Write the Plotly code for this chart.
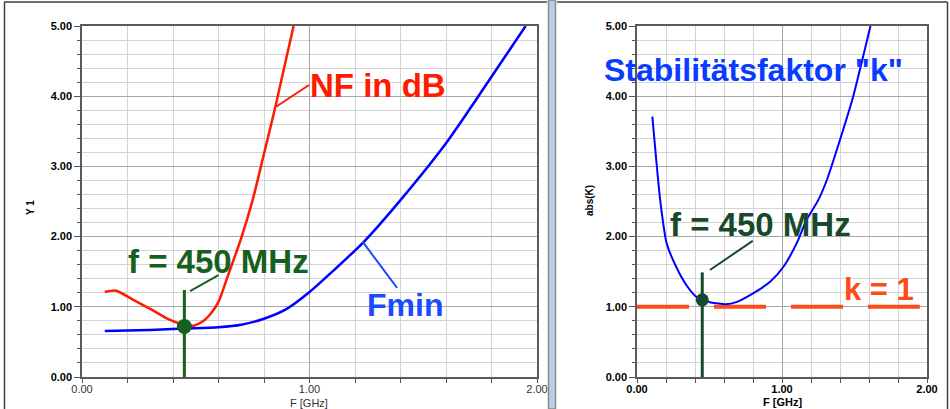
import plotly.graph_objects as go

# ---------------- data ----------------
nf_freq = [0.10, 0.15, 0.22, 0.30, 0.37, 0.42, 0.45, 0.49, 0.53, 0.57, 0.60, 0.64, 0.70, 0.75, 0.80, 0.85, 0.93]
nf_db = [1.21, 1.23, 1.11, 0.97, 0.84, 0.77, 0.73, 0.73, 0.79, 0.92, 1.07, 1.43, 1.98, 2.52, 3.18, 3.85, 5.00]

fmin_freq = [0.10, 0.30, 0.45, 0.60, 0.70, 0.80, 0.90, 1.00, 1.10, 1.24, 1.40, 1.60, 1.78, 1.95]
fmin_val = [0.655, 0.67, 0.69, 0.71, 0.745, 0.83, 0.97, 1.21, 1.50, 1.93, 2.52, 3.33, 4.18, 5.00]

k_freq = [0.106, 0.16, 0.205, 0.27, 0.34, 0.41, 0.457, 0.51, 0.55, 0.61, 0.69, 0.80, 0.92, 1.01, 1.10, 1.17, 1.25, 1.31, 1.40, 1.49, 1.61]
k_val = [3.71, 2.52, 1.90, 1.57, 1.31, 1.14, 1.10, 1.06, 1.05, 1.035, 1.07, 1.19, 1.36, 1.57, 1.90, 2.24, 2.52, 2.81, 3.38, 3.99, 5.00]

k1_freq = [0.0, 1.95]
k1_val = [1.0, 1.0]

mark_freq = 0.45
mark_nf = 0.72
mark_k = 1.10
mark_top_left = 1.24
mark_top_right = 1.49

x_ticks = [0, 1, 2]
y_ticks = [0, 1, 2, 3, 4, 5]

# ---------------- styling ----------------
FONT = "Liberation Sans, Arial, sans-serif"
RED = "#ff1a00"
BLUE = "#0000ff"
TXT_BLUE = "#0a3cff"
GREEN = "#16601e"
DGREEN = "#174a2c"
ORANGE = "#ff4a1a"

W, H = 950, 409
def px_x(p):
    return p / W
def px_y(p):
    return 1 - p / H

fig = go.Figure()

fig.add_trace(go.Scatter(x=nf_freq, y=nf_db, mode="lines", line=dict(color=RED, width=2.5, shape="spline", smoothing=0.7),
                         xaxis="x", yaxis="y", showlegend=False))
fig.add_trace(go.Scatter(x=fmin_freq, y=fmin_val, mode="lines", line=dict(color=BLUE, width=2.5, shape="spline", smoothing=0.7),
                         xaxis="x", yaxis="y", showlegend=False))
fig.add_trace(go.Scatter(x=[mark_freq, mark_freq], y=[0, mark_top_left], mode="lines", line=dict(color=GREEN, width=3),
                         xaxis="x", yaxis="y", showlegend=False))
fig.add_trace(go.Scatter(x=[mark_freq], y=[mark_nf], mode="markers", marker=dict(color=GREEN, size=15),
                         xaxis="x", yaxis="y", showlegend=False))

fig.add_trace(go.Scatter(x=k1_freq, y=k1_val, mode="lines", line=dict(color=ORANGE, width=4, dash="52px,25px"),
                         xaxis="x2", yaxis="y2", showlegend=False))
fig.add_trace(go.Scatter(x=k_freq, y=k_val, mode="lines", line=dict(color=BLUE, width=2, shape="spline", smoothing=0.6),
                         xaxis="x2", yaxis="y2", showlegend=False))
fig.add_trace(go.Scatter(x=[mark_freq, mark_freq], y=[0, mark_top_right], mode="lines", line=dict(color=DGREEN, width=3),
                         xaxis="x2", yaxis="y2", showlegend=False))
fig.add_trace(go.Scatter(x=[mark_freq], y=[mark_k], mode="markers", marker=dict(color=DGREEN, size=13),
                         xaxis="x2", yaxis="y2", showlegend=False))

def yaxis_cfg(anchor):
    return dict(range=[0, 5], tickvals=y_ticks, tickformat=".2f", anchor=anchor,
                domain=[px_y(377), px_y(26)], automargin=False,
                showgrid=True, gridcolor="#a6a6a6", gridwidth=1,
                minor=dict(dtick=0.2, tick0=0, showgrid=True, gridcolor="#d4d4d4", gridwidth=1,
                           ticks="outside", ticklen=3, tickcolor="#555"),
                ticks="outside", ticklen=6, tickcolor="#555", tickwidth=1,
                showline=True, linecolor="#5a5a5a", linewidth=1.5, mirror=True, zeroline=False,
                tickfont=dict(family=FONT, size=11, color="#000", weight="bold"), fixedrange=True)

def xaxis_cfg(anchor, dom, bold):
    return dict(range=[0, 2], tickvals=x_ticks, tickformat=".2f", anchor=anchor, domain=dom, automargin=False,
                showgrid=True, gridcolor="#a6a6a6", gridwidth=1,
                minor=dict(dtick=0.2, tick0=0, showgrid=True, gridcolor="#d4d4d4", gridwidth=1,
                           ticks="outside", ticklen=4, tickcolor="#555"),
                ticks="outside", ticklen=4, tickcolor="#555", tickwidth=1, ticklabelstandoff=-3,
                showline=True, linecolor="#5a5a5a", linewidth=1.5, mirror=True, zeroline=False,
                tickfont=dict(family=FONT, size=11, color="#000" if bold else "#333",
                              weight="bold" if bold else "normal"), fixedrange=True)

shapes = [
    # panel frames
    dict(type="line", xref="paper", yref="paper", x0=px_x(4), x1=px_x(547), y0=px_y(2), y1=px_y(2),
         line=dict(color="#404040", width=1.5)),
    dict(type="line", xref="paper", yref="paper", x0=px_x(4.5), x1=px_x(4.5), y0=px_y(2), y1=px_y(410),
         line=dict(color="#404040", width=1.5)),
    dict(type="line", xref="paper", yref="paper", x0=px_x(557), x1=px_x(947.5), y0=px_y(2), y1=px_y(2),
         line=dict(color="#404040", width=1.5)),
    dict(type="line", xref="paper", yref="paper", x0=px_x(947.5), x1=px_x(947.5), y0=px_y(2), y1=px_y(410),
         line=dict(color="#404040", width=1.5)),
    # separator
    dict(type="rect", xref="paper", yref="paper", x0=px_x(548.5), x1=px_x(555.5), y0=px_y(0), y1=px_y(409),
         line=dict(color="#8a8a8a", width=1.5), fillcolor="#b9cfe8"),
    # leader lines (left)
    dict(type="line", xref="x", yref="y", x0=0.853, y0=3.85, x1=0.998, y1=4.16, line=dict(color=RED, width=2)),
    dict(type="line", xref="x", yref="y", x0=1.235, y0=1.92, x1=1.385, y1=1.27, line=dict(color="#1a4cff", width=2)),
    dict(type="line", xref="x", yref="y", x0=0.475, y0=1.225, x1=0.60, y1=1.45, line=dict(color=GREEN, width=2)),
    # leader line (right)
    dict(type="line", xref="x2", yref="y2", x0=0.503, y0=1.524, x1=0.798, y1=1.94, line=dict(color=DGREEN, width=2)),
]

def txt(x, y, text, color, size, xref="x", yref="y"):
    return dict(x=x, y=y, xref=xref, yref=yref, text="<b>" + text + "</b>", showarrow=False,
                font=dict(family=FONT, size=size, color=color), xanchor="center", yanchor="middle")

annotations = [
    txt(1.30, 4.15, "NF in dB", RED, 33),
    txt(1.42, 1.03, "Fmin", "#1a4cff", 32),
    txt(0.60, 1.65, "f = 450 MHz", GREEN, 33),
    txt(0.80, 4.37, "Stabilitätsfaktor \"k\"", TXT_BLUE, 32, "x2", "y2"),
    txt(0.852, 2.17, "f = 450 MHz", DGREEN, 33, "x2", "y2"),
    txt(1.672, 1.25, "k = 1", ORANGE, 31, "x2", "y2"),
    # axis titles
    dict(x=px_x(30), y=px_y(208), xref="paper", yref="paper", text="<b>Y 1</b>", showarrow=False, textangle=-90,
         font=dict(family=FONT, size=10, color="#000"), xanchor="center", yanchor="middle"),
    dict(x=px_x(309), y=px_y(403), xref="paper", yref="paper", text="F [GHz]", showarrow=False,
         font=dict(family=FONT, size=11, color="#333"), xanchor="center", yanchor="middle"),
    dict(x=px_x(589), y=px_y(201), xref="paper", yref="paper", text="<b>abs(K)</b>", showarrow=False, textangle=-90,
         font=dict(family=FONT, size=10, color="#000"), xanchor="center", yanchor="middle"),
    dict(x=px_x(782), y=px_y(402), xref="paper", yref="paper", text="<b>F [GHz]</b>", showarrow=False,
         font=dict(family=FONT, size=11, color="#000"), xanchor="center", yanchor="middle"),
]

fig.update_layout(
    width=W, height=H,
    margin=dict(l=0, r=0, t=0, b=0),
    paper_bgcolor="white", plot_bgcolor="white",
    xaxis=xaxis_cfg("y", [px_x(82), px_x(537)], False),
    yaxis=yaxis_cfg("x"),
    xaxis2=xaxis_cfg("y2", [px_x(637), px_x(927)], True),
    yaxis2=yaxis_cfg("x2"),
    shapes=shapes,
    annotations=annotations,
    showlegend=False,
)

fig.write_html("out.html", config={"displayModeBar": False},
               post_script="document.body.style.margin='0';document.body.style.padding='0';document.body.style.overflow='hidden';")
